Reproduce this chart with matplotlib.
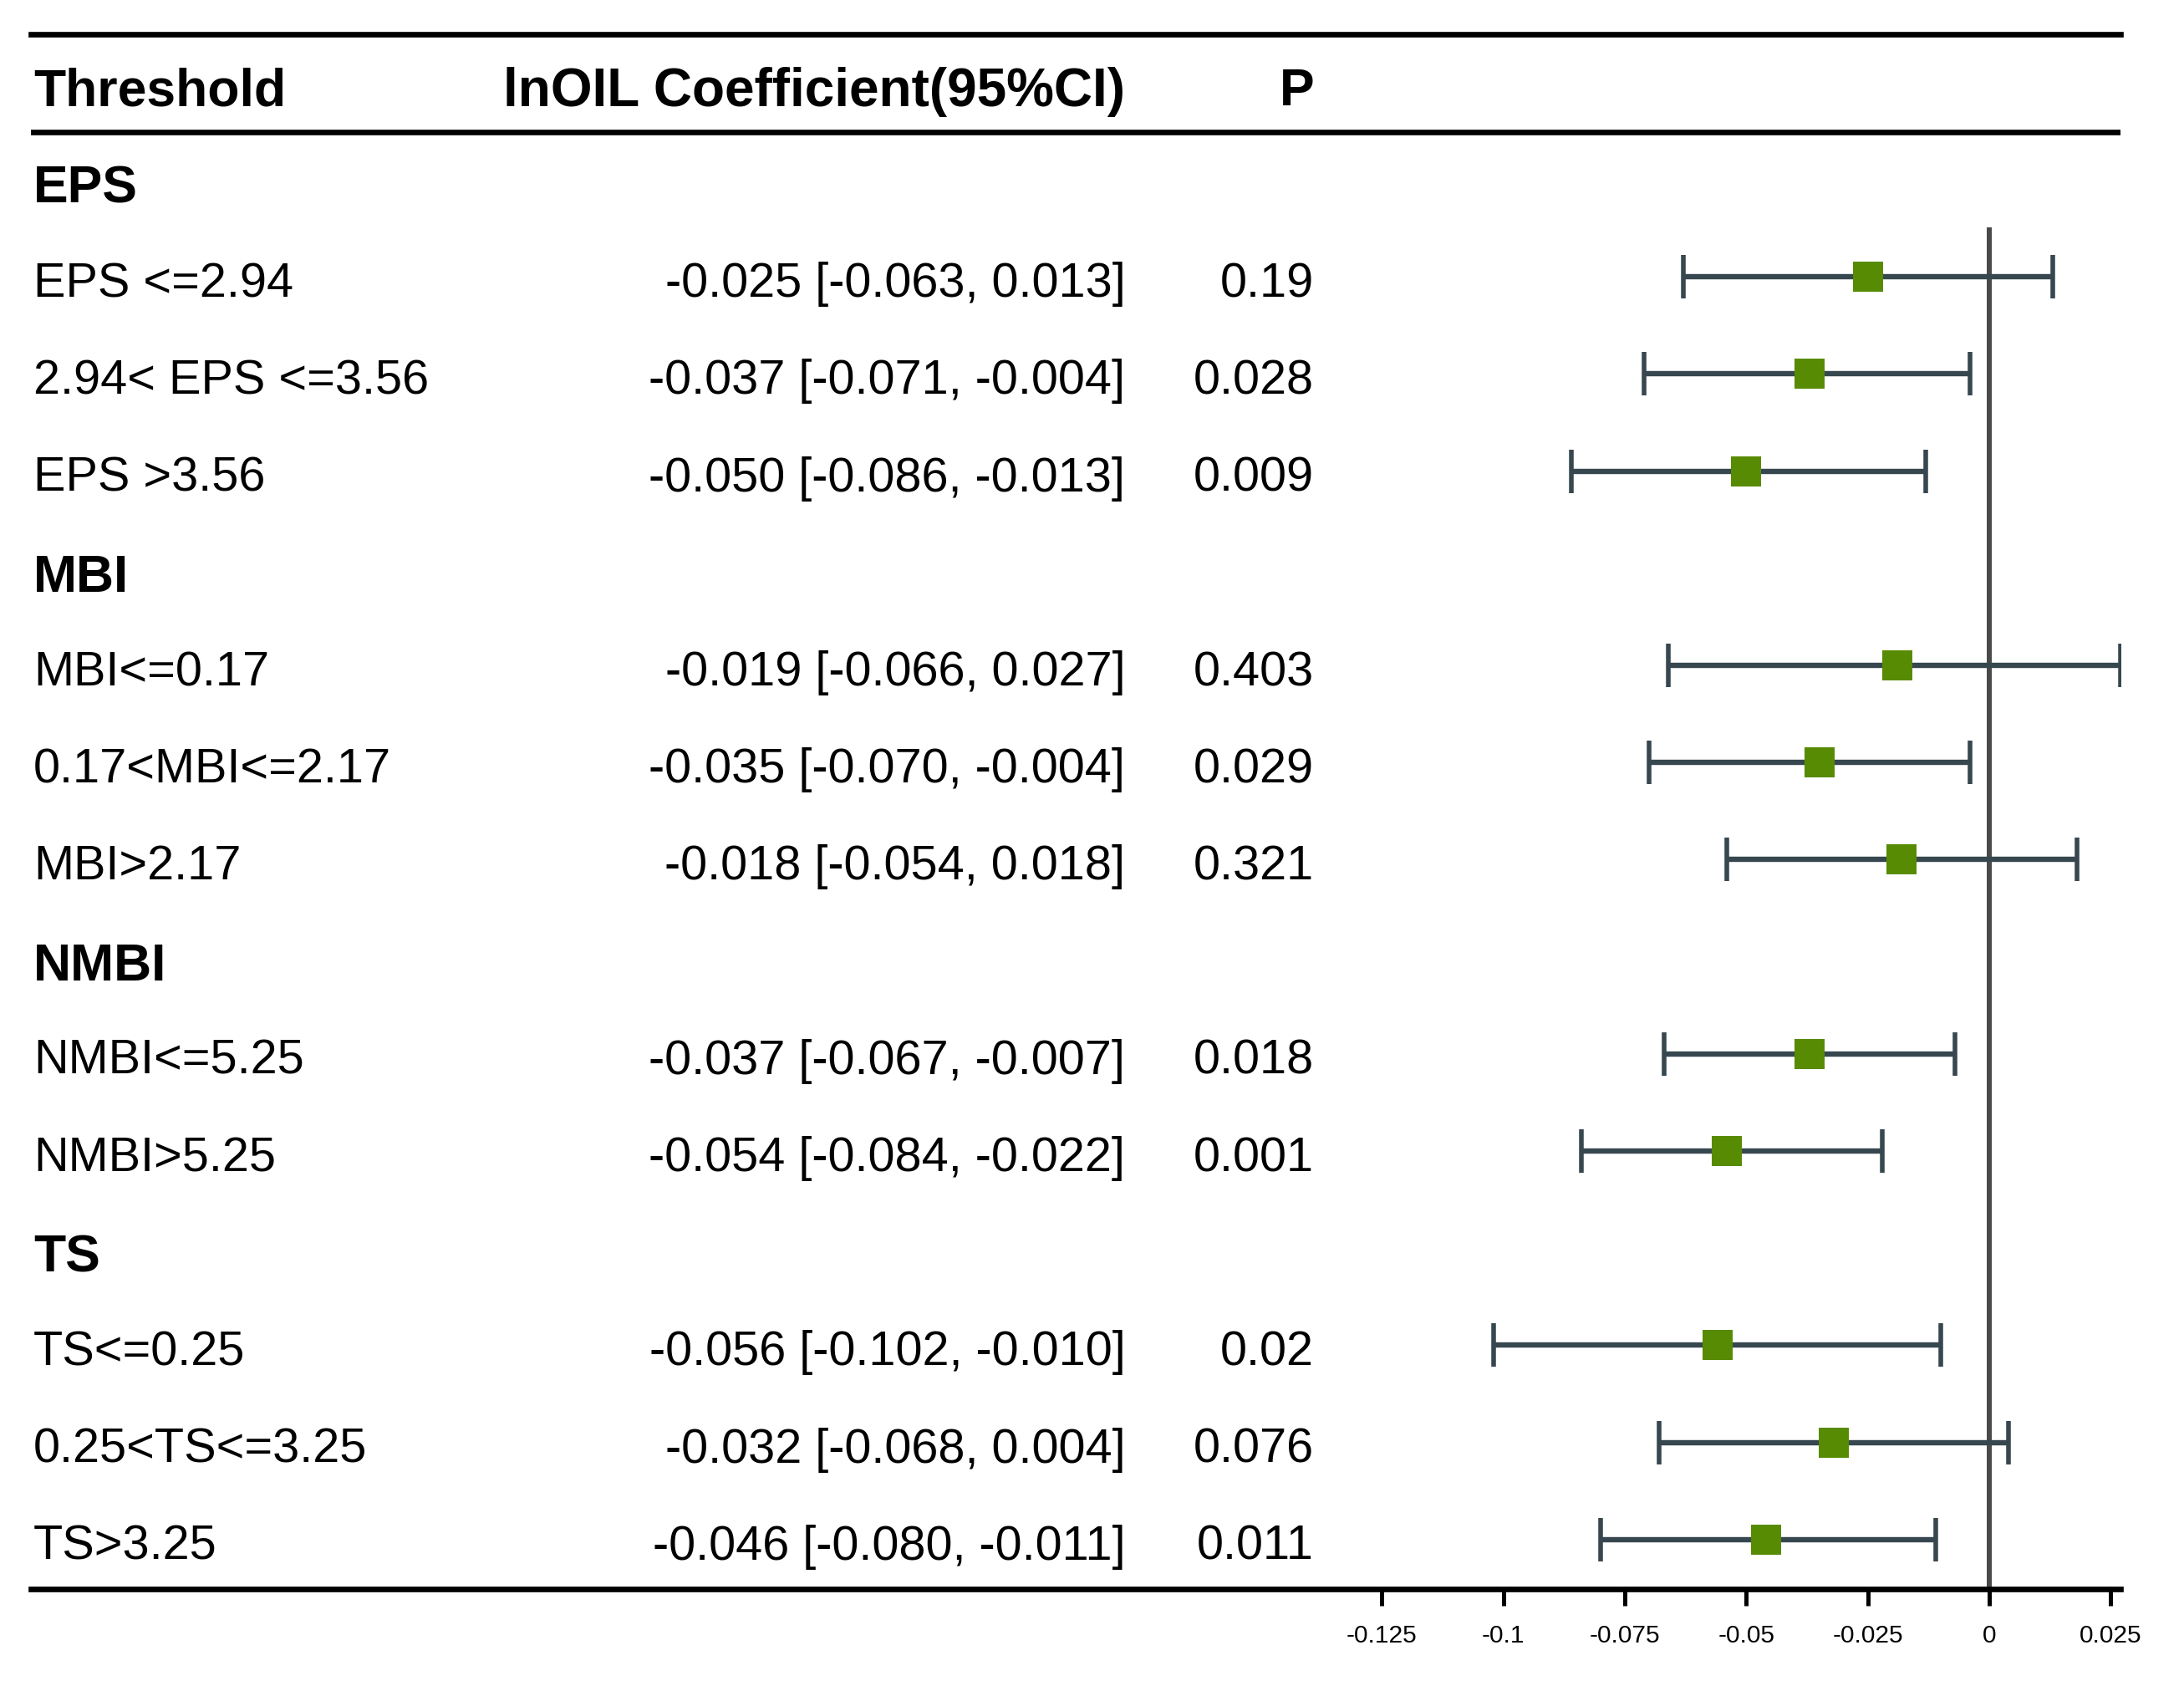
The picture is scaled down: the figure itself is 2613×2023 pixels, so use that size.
import matplotlib
matplotlib.use('Agg')
import matplotlib.pyplot as plt
import numpy as np

plt.rcParams['font.family'] = ['Liberation Sans', 'DejaVu Sans']

# data
groups = ['EPS', 'MBI', 'NMBI', 'TS']
group_of = [0, 0, 0, 1, 1, 1, 2, 2, 3, 3, 3]
thresholds = ['EPS <=2.94', '2.94< EPS <=3.56', 'EPS >3.56',
              'MBI<=0.17', '0.17<MBI<=2.17', 'MBI>2.17',
              'NMBI<=5.25', 'NMBI>5.25',
              'TS<=0.25', '0.25<TS<=3.25', 'TS>3.25']
est = [-0.025, -0.037, -0.050, -0.019, -0.035, -0.018, -0.037, -0.054, -0.056, -0.032, -0.046]
lo = [-0.063, -0.071, -0.086, -0.066, -0.070, -0.054, -0.067, -0.084, -0.102, -0.068, -0.080]
hi = [0.013, -0.004, -0.013, 0.027, -0.004, 0.018, -0.007, -0.022, -0.010, 0.004, -0.011]
pvals = ['0.19', '0.028', '0.009', '0.403', '0.029', '0.321', '0.018', '0.001', '0.02', '0.076', '0.011']
xticks = [-0.125, -0.1, -0.075, -0.05, -0.025, 0, 0.025]
xticklabels = ['-0.125', '-0.1', '-0.075', '-0.05', '-0.025', '0', '0.025']

W, H = 2613, 2024
fig = plt.figure(figsize=(W / 100, H / 100), dpi=100)
ax = fig.add_axes([37 / W, 1 - 1902 / H, 2500 / W, (1902 - 42) / H])
ax.set_xlim(-0.4031, 0.0270)
ybot, ytop = 14.51, -1.497
ax.set_ylim(ybot, ytop)

# row positions: group heading then its thresholds
rows = []
head_rows = []
r = 0
for g in range(len(groups)):
    head_rows.append(r)
    r += 1
    for i in range(len(thresholds)):
        if group_of[i] == g:
            rows.append(r)
            r += 1
rows = np.array(rows)
est = np.array(est); lo = np.array(lo); hi = np.array(hi)

ax.vlines(0, 0.49, ybot, color='#4a4a4a', lw=4.3, zorder=1)
ax.errorbar(est, rows, xerr=[est - lo, hi - est], fmt='none', ecolor='#37474f',
            elinewidth=4.6, capsize=19, capthick=4.0, zorder=2)
ax.plot(est, rows, 's', color='#578b03', markersize=26, markeredgewidth=0, zorder=3)

for s in ['left', 'right']:
    ax.spines[s].set_visible(False)
ax.spines['top'].set_linewidth(4.8)
ax.spines['bottom'].set_linewidth(4.8)
ax.axhline(-0.49, color='black', lw=4.8)
ax.set_yticks([])
ax.set_xticks(xticks)
ax.set_xticklabels(xticklabels, fontsize=21.5)
ax.tick_params(axis='x', direction='out', length=14.4, width=3.6, pad=15)

tr = ax.get_yaxis_transform()
xl, xc, xp = 0.0012, 0.5237, 0.6141
dy = 0.07  # text sits a touch lower than the whiskers
hy = -0.964 + 0.05
ax.text(xl, hy, 'Threshold', transform=tr, fontsize=45, fontweight='bold', ha='left', va='center')
ax.text(xc, hy, 'lnOIL Coefficient(95%CI)', transform=tr, fontsize=46, fontweight='bold', ha='right', va='center')
ax.text(xp, hy, 'P', transform=tr, fontsize=45, fontweight='bold', ha='right', va='center')

for g, hr in zip(groups, head_rows):
    ax.text(xl, hr + dy + 0.02, g, transform=tr, fontsize=45, fontweight='bold', ha='left', va='center')

for i, rr in enumerate(rows):
    ax.text(xl, rr + dy, thresholds[i], transform=tr, fontsize=41.5, ha='left', va='center')
    ax.text(xc, rr + dy, f'{est[i]:.3f} [{lo[i]:.3f}, {hi[i]:.3f}]', transform=tr,
            fontsize=41.5, ha='right', va='center')
    ax.text(xp, rr + dy, pvals[i], transform=tr, fontsize=41.5, ha='right', va='center')

fig.savefig('out.png', dpi=100, facecolor='white')
